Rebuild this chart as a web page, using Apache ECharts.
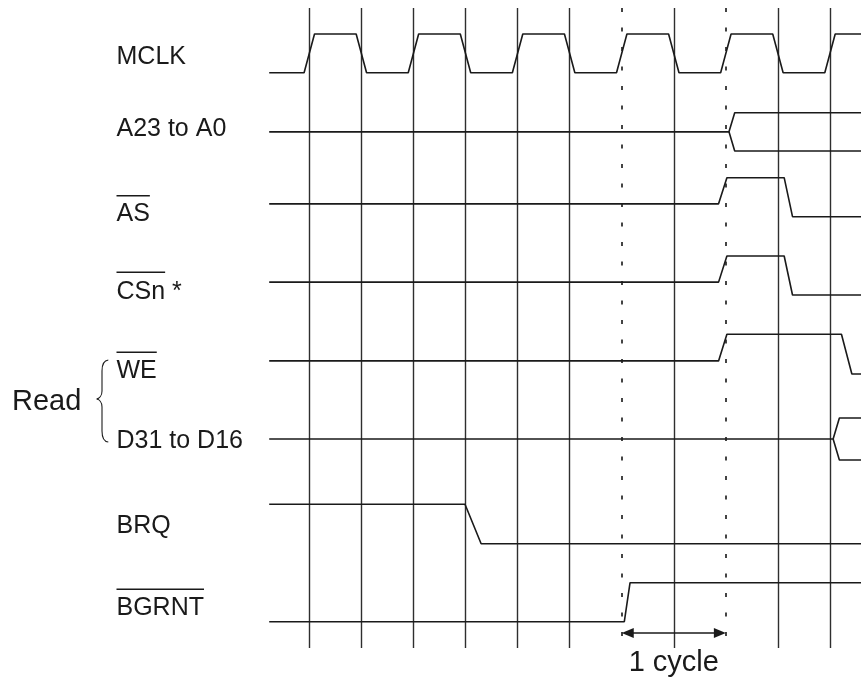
<!DOCTYPE html>
<html>
<head>
<meta charset="utf-8">
<script src="https://cdn.jsdelivr.net/npm/echarts@6/dist/echarts.min.js"></script>
<style>
html,body{margin:0;padding:0;background:#fff;}
#chart{width:861px;height:678px;}
</style>
</head>
<body>
<div id="chart"></div>
<script>
// ---------- DATA ----------
const gridTimes = [0, 1, 2, 3, 4, 5, 6, 7, 8, 9, 10];
const dottedTimes = [6, 8];
const signalNames = ['MCLK', 'A23 to A0', 'AS', 'CSn', 'WE', 'D31 to D16', 'BRQ', 'BGRNT'];
const nameSuffix = ['', '', '', ' *', '', '', '', ''];
const activeLow = [false, false, true, true, true, false, false, true];
const groupLabel = 'Read';
const cycleLabel = '1 cycle';
const cycleSpan = [6, 8];

// waveforms: [time (clock half-periods), level (0 low, 1 high)]
const mclkWave = [[-0.77,0],[-0.1,0],[0.1,1],[0.9,1],[1.1,0],[1.9,0],[2.1,1],[2.9,1],[3.1,0],[3.9,0],[4.1,1],[4.9,1],[5.1,0],[5.9,0],[6.1,1],[6.9,1],[7.1,0],[7.9,0],[8.1,1],[8.9,1],[9.1,0],[9.9,0],[10.1,1],[10.6,1]];
const addrUpper = [[-0.77,0.5],[8.06,0.5],[8.17,1],[10.6,1]];
const addrLower = [[8.06,0.5],[8.17,0],[10.6,0]];
const asWave = [[-0.77,0.33],[7.86,0.33],[8.02,1],[9.12,1],[9.28,0],[10.6,0]];
const csWave = [[-0.77,0.33],[7.86,0.33],[8.02,1],[9.12,1],[9.28,0],[10.6,0]];
const weWave = [[-0.77,0.33],[7.86,0.33],[8.02,1],[10.22,1],[10.42,0],[10.6,0]];
const dataUpper = [[-0.77,0.5],[10.06,0.5],[10.18,1],[10.6,1]];
const dataLower = [[10.06,0.5],[10.18,0],[10.6,0]];
const brqWave = [[-0.77,1],[2.99,1],[3.3,0],[10.6,0]];
const bgrntWave = [[-0.77,0],[6.05,0],[6.16,1],[10.6,1]];

// ---------- LAYOUT ----------
const W = 861, H = 678;
const x0px = 309.3, unitPx = 52.07;
const xMin = -x0px / unitPx, xMax = (W - x0px) / unitPx;
const rowHigh = [34, 112.7, 177.7, 256, 334.3, 418, 504.3, 582.7];
const rowLow  = [72.7, 151, 216.7, 295, 374, 460, 543.7, 621.7];
const labelY  = [57.5, 129.5, 214.5, 292, 371.5, 441.5, 526.5, 608.5];
const overlineY = [0, 0, 195.7, 272.3, 352.3, 0, 0, 589.3];
const labelX = 116.5;
const lineTop = 8, lineBottom = 648, dotBottom = 640, arrowY = 633;
const arrowLen = 12, arrowInset = (arrowLen / 2) / unitPx;
const FONT = '"Liberation Sans", Arial, Helvetica, sans-serif';
const INK = '#1a1a1a';

function toRow(row, wave) {
  return wave.map(p => [p[0], rowLow[row] - (rowLow[row] - rowHigh[row]) * p[1]]);
}
const rowWaves = [
  [0, mclkWave], [1, addrUpper], [1, addrLower], [2, asWave], [3, csWave],
  [4, weWave], [5, dataUpper], [5, dataLower], [6, brqWave], [7, bgrntWave]
];

const series = rowWaves.map(([r, w]) => ({
  type: 'line', data: toRow(r, w), symbol: 'none', silent: true, animation: false,
  lineStyle: { color: INK, width: 1.6 }, z: 5
}));

const vLines = gridTimes.filter(t => dottedTimes.indexOf(t) < 0).map(t => [
  { coord: [t, lineTop] }, { coord: [t, lineBottom] }
]);
const dLines = dottedTimes.map(t => [
  { coord: [t, lineTop] }, { coord: [t, dotBottom] }
]);
series.push({
  type: 'line', data: [], silent: true, animation: false,
  markLine: { symbol: 'none', silent: true, animation: false, label: { show: false },
    lineStyle: { color: '#2e2e2e', width: 1.4, type: 'solid' }, data: vLines }
});
series.push({
  type: 'line', data: [], silent: true, animation: false,
  markLine: { symbol: 'none', silent: true, animation: false, label: { show: false },
    lineStyle: { color: '#444', width: 2, type: [4, 15.5] }, data: dLines }
});
series.push({
  type: 'line', data: [], silent: true, animation: false,
  markLine: { symbol: ['triangle', 'triangle'], symbolSize: [10, arrowLen], silent: true, animation: false,
    label: { show: false },
    lineStyle: { color: INK, width: 1.6, type: 'solid' },
    data: [[{ coord: [cycleSpan[0] + arrowInset, arrowY] }, { coord: [cycleSpan[1] - arrowInset, arrowY] }]] }
});

const chart = echarts.init(document.getElementById('chart'), null, { renderer: 'canvas' });

const mctx = document.createElement('canvas').getContext('2d');
mctx.font = '25px ' + FONT;

const graphic = [];
signalNames.forEach((n, i) => {
  graphic.push({
    type: 'text', x: labelX, y: labelY[i], silent: true,
    style: { text: n + nameSuffix[i], font: '25px ' + FONT, fill: INK, verticalAlign: 'middle', align: 'left' }
  });
  if (activeLow[i]) {
    const w = mctx.measureText(n).width;
    graphic.push({
      type: 'line', silent: true,
      shape: { x1: labelX, y1: overlineY[i], x2: labelX + w, y2: overlineY[i] },
      style: { stroke: INK, lineWidth: 1.4 }
    });
  }
});
graphic.push({
  type: 'text', x: 12, y: 402, silent: true,
  style: { text: groupLabel, font: '29px ' + FONT, fill: INK, verticalAlign: 'middle', align: 'left' }
});
// brace
const braceStyle = { stroke: INK, lineWidth: 1.1, fill: null };
[
  { x1: 108.3, y1: 360, cpx1: 103.5, cpy1: 360.5, cpx2: 102, cpy2: 364, x2: 102, y2: 371 },
  { x1: 102, y1: 391, cpx1: 102, cpy1: 396, cpx2: 99, cpy2: 398.5, x2: 96.7, y2: 399 },
  { x1: 96.7, y1: 399, cpx1: 99, cpy1: 399.5, cpx2: 102, cpy2: 402, x2: 102, y2: 407 },
  { x1: 102, y1: 431, cpx1: 102, cpy1: 438, cpx2: 103.5, cpy2: 441.5, x2: 108.3, y2: 442 }
].forEach(s => graphic.push({ type: 'bezierCurve', silent: true, shape: s, style: braceStyle }));
graphic.push({ type: 'line', silent: true, shape: { x1: 102, y1: 371, x2: 102, y2: 391 }, style: braceStyle });
graphic.push({ type: 'line', silent: true, shape: { x1: 102, y1: 407, x2: 102, y2: 431 }, style: braceStyle });

chart.setOption({
  animation: false,
  backgroundColor: '#fff',
  grid: { left: 0, right: 0, top: 0, bottom: 0 },
  xAxis: { type: 'value', min: xMin, max: xMax, show: false },
  yAxis: { type: 'value', min: 0, max: H, inverse: true, show: false },
  series: series
});

const cx = chart.convertToPixel({ gridIndex: 0 }, [(cycleSpan[0] + cycleSpan[1]) / 2, 0])[0];
graphic.push({
  type: 'text', x: cx, y: 663, silent: true,
  style: { text: cycleLabel, font: '29px ' + FONT, fill: INK, align: 'center', verticalAlign: 'middle' }
});
chart.setOption({ graphic: graphic });
</script>
</body>
</html>
